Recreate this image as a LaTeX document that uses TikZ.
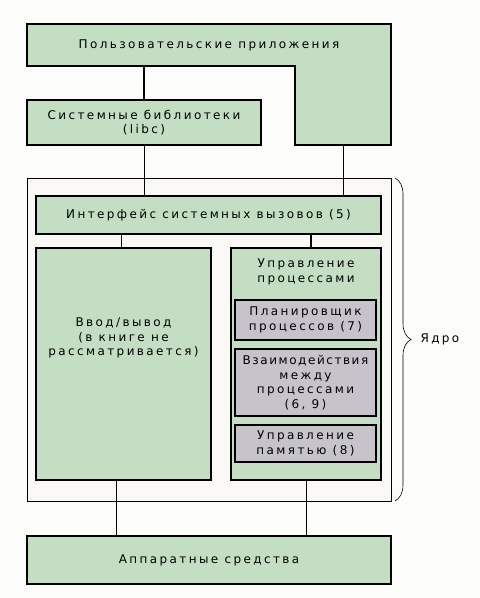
\documentclass[tikz,border=0pt]{standalone}
\usepackage{fontspec}
\setmainfont{DejaVu Sans}[LetterSpace=20]
\usetikzlibrary{decorations.pathreplacing}

\definecolor{boxgreen}{RGB}{196,222,196}
\definecolor{boxgrey}{RGB}{198,196,202}
\definecolor{kernelfill}{RGB}{250,249,245}
\definecolor{pagebg}{RGB}{252,253,251}

\begin{document}
\begin{tikzpicture}[x=1pt, y=-1pt, font=\fontsize{12}{14.5}\selectfont]
        % Define styles for the boxes and the links
        \tikzset{
            greenbox/.style={draw, line width=2pt, fill=boxgreen, anchor=north west, align=center, inner sep=0pt, outer sep=0pt},
            greybox/.style={draw, line width=2pt, fill=boxgrey, anchor=north west, align=center, inner sep=0pt, outer sep=0pt},
            thin link/.style={line width=1pt},
            thick link/.style={line width=2pt}
        }

        % Page background
        \useasboundingbox (0,0) rectangle (480,598);
        \fill[pagebg] (0,0) rectangle (480,598);

        % Kernel frame
        \node[draw, line width=1pt, fill=kernelfill, anchor=north west, inner sep=0pt, outer sep=0pt,
              minimum width=364pt, minimum height=323pt] (kernel) at (27,178) {};

        % User applications (L-shaped block)
        \draw[line width=2pt, fill=boxgreen] (27,24) -- (391,24) -- (391,145) -- (295,145) -- (295,66) -- (27,66) -- cycle;
        \node (apps) at (209,45) {Пользовательские приложения};
        \coordinate (apps bar) at (144,66);
        \coordinate (apps leg) at (343,145);

        % Boxes
        \node[greenbox, minimum width=234pt, minimum height=45pt] (libc) at (27,100) {Системные библиотеки\\(libc)};
        \node[greenbox, minimum width=345pt, minimum height=38pt] (sys) at (36,196) {Интерфейс системных вызовов (5)};
        \node[greenbox, minimum width=175pt, minimum height=232pt] (io) at (36,248) {};
        \node[greenbox, minimum width=150pt, minimum height=232pt] (proc) at (231,248) {};
        \node[greybox, minimum width=141pt, minimum height=40pt] (sched) at (235,300) {Планировщик\\процессов (7)};
        \node[greybox, minimum width=141pt, minimum height=67pt] (ipc) at (235,349) {{\addfontfeature{LetterSpace=13}Взаимодействия}\\между\\процессами\\(6, 9)};
        \node[greybox, minimum width=141pt, minimum height=37pt] (mem) at (235,425) {Управление\\памятью (8)};
        \node[greenbox, minimum width=364pt, minimum height=48pt] (hw) at (27,536) {Аппаратные средства};

        % Labels inside the big boxes
        \node[align=center] (io label) at ([yshift=26]io.center) {Ввод/вывод\\(в книге не\\рассматривается)};
        \node[align=center] (proc label) at (306,272) {Управление\\процессами};

        % Links between the blocks
        \draw[thick link] (libc.north) -- (apps bar);
        \draw[thin link] (libc.south) -- (libc.south |- sys.north);
        \draw[thin link] (apps leg) -- (apps leg |- sys.north);
        \draw[thin link] ([xshift=-2]io.north) -- ([xshift=-2]io.north |- sys.south);
        \draw[thick link] ([xshift=5]proc.north) -- ([xshift=5]proc.north |- sys.south);
        \draw[thin link] ([xshift=-7]io.south) -- ([xshift=-7]io.south |- hw.north);
        \draw[thin link] (proc.south) -- (proc.south |- hw.north);

        % Brace for the kernel
        \draw[line width=0.6pt, decorate, decoration={brace, amplitude=16pt}]
            ([xshift=4]kernel.north east) -- ([xshift=4]kernel.south east);
        \node[anchor=west] (kernel label) at ([xshift=26]kernel.east) {Ядро};

    \end{tikzpicture}
\end{document}
